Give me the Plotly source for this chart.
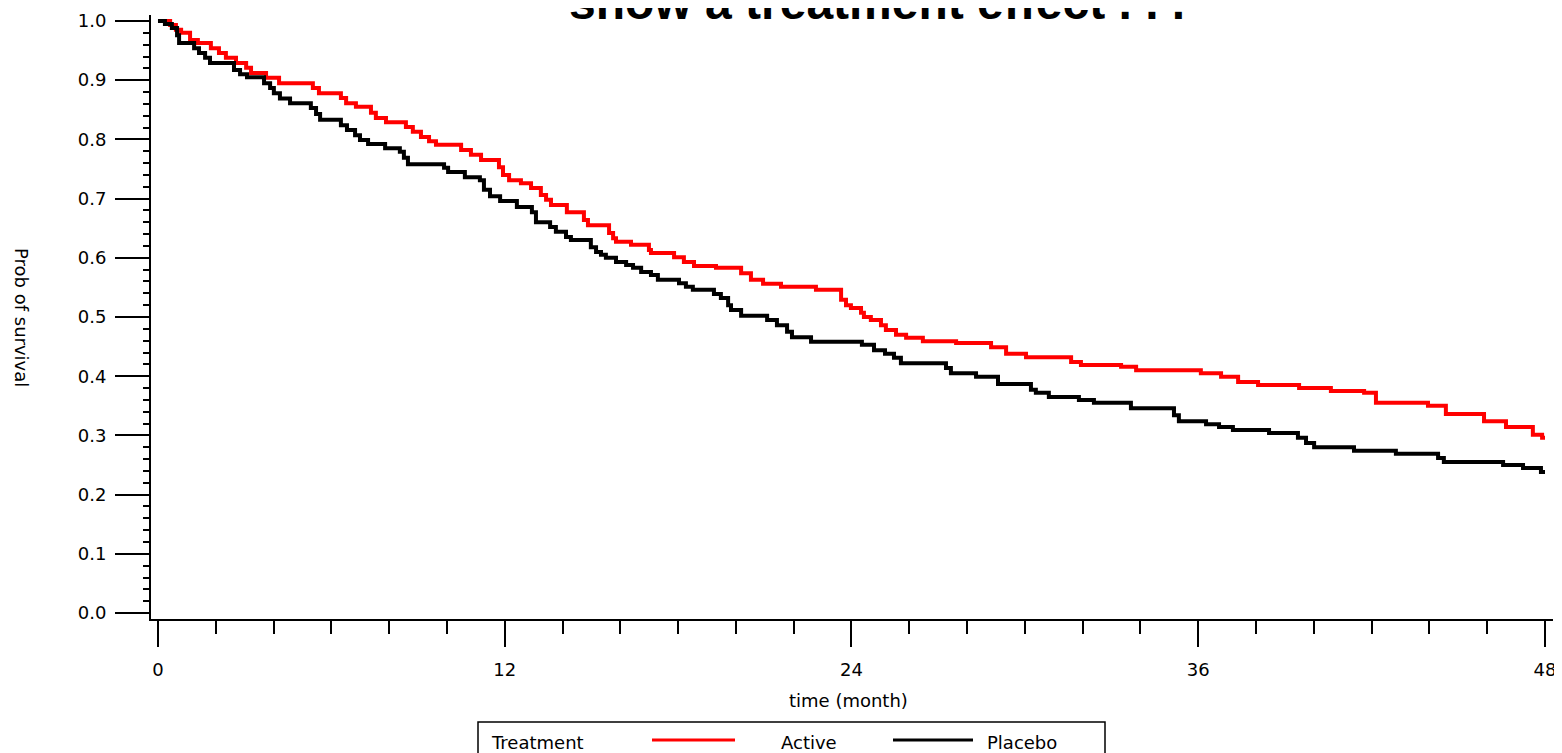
import plotly.graph_objects as go

# ---- data (months, survival probability) ----
active_t = [0, 0.42, 0.62, 0.80, 1.11, 1.38, 1.83, 2.11, 2.35, 2.70, 3.05, 3.22, 3.74, 4.19, 5.36, 5.57,
            6.33, 6.51, 6.85, 7.37, 7.54, 7.89, 8.58, 8.82, 9.10, 9.38, 9.62, 10.49, 10.83, 11.18, 11.80,
            11.94, 12.15, 12.56, 12.91, 13.25, 13.43, 13.60, 14.15, 14.74, 14.88, 15.61, 15.75, 15.85,
            16.37, 16.99, 17.06, 17.86, 18.20, 18.55, 19.31, 20.18, 20.52, 20.94, 21.56, 22.77, 23.64,
            23.81, 23.98, 24.33, 24.43, 24.67, 25.02, 25.19, 25.54, 25.89, 26.47, 27.62, 28.83, 29.35,
            30.04, 31.60, 31.94, 33.33, 33.85, 36.09, 36.79, 37.38, 38.07, 39.49, 40.59, 41.74, 42.15,
            43.95, 44.57, 45.89, 46.65, 47.58, 47.90, 48.0]
active_s = [1.0, 0.993, 0.985, 0.980, 0.968, 0.963, 0.954, 0.946, 0.938, 0.929, 0.921, 0.912, 0.904, 0.895,
            0.887, 0.878, 0.870, 0.861, 0.855, 0.845, 0.836, 0.829, 0.821, 0.813, 0.804, 0.797, 0.791,
            0.782, 0.774, 0.765, 0.753, 0.740, 0.731, 0.726, 0.718, 0.706, 0.698, 0.689, 0.677, 0.664,
            0.655, 0.642, 0.633, 0.627, 0.622, 0.613, 0.608, 0.601, 0.593, 0.586, 0.583, 0.574, 0.563,
            0.556, 0.551, 0.546, 0.529, 0.520, 0.515, 0.507, 0.500, 0.495, 0.486, 0.478, 0.470, 0.465,
            0.459, 0.456, 0.449, 0.438, 0.432, 0.424, 0.419, 0.416, 0.410, 0.405, 0.399, 0.390, 0.385,
            0.380, 0.375, 0.372, 0.355, 0.350, 0.336, 0.324, 0.314, 0.301, 0.296, 0.296]

placebo_t = [0, 0.24, 0.48, 0.66, 0.73, 1.25, 1.42, 1.63, 1.80, 2.63, 2.84, 3.08, 3.67, 3.88, 4.01, 4.22,
             4.57, 5.29, 5.47, 5.61, 6.33, 6.54, 6.82, 6.99, 7.27, 7.86, 8.37, 8.51, 8.65, 9.90, 10.04,
             10.62, 11.14, 11.28, 11.49, 11.84, 12.42, 12.94, 13.08, 13.57, 13.77, 14.12, 14.29, 14.98,
             15.16, 15.33, 15.50, 15.85, 16.20, 16.44, 16.72, 17.06, 17.30, 18.03, 18.27, 18.51, 19.24,
             19.48, 19.73, 19.83, 20.18, 21.08, 21.42, 21.77, 21.94, 22.60, 24.36, 24.78, 25.16, 25.47,
             25.71, 27.27, 27.44, 28.31, 29.07, 30.21, 30.38, 30.83, 31.87, 32.39, 33.67, 35.16, 35.33,
             36.27, 36.72, 37.20, 38.45, 39.45, 39.73, 40.01, 41.39, 42.84, 44.30, 44.50, 46.55, 47.24,
             47.86, 48.0]
placebo_s = [1.0, 0.995, 0.988, 0.976, 0.963, 0.954, 0.946, 0.938, 0.929, 0.917, 0.910, 0.905, 0.895,
             0.887, 0.878, 0.869, 0.861, 0.853, 0.843, 0.833, 0.824, 0.816, 0.807, 0.799, 0.792, 0.785,
             0.779, 0.769, 0.758, 0.752, 0.745, 0.736, 0.731, 0.715, 0.704, 0.696, 0.686, 0.677, 0.660,
             0.652, 0.644, 0.635, 0.630, 0.618, 0.610, 0.605, 0.600, 0.593, 0.588, 0.583, 0.576, 0.571,
             0.563, 0.557, 0.551, 0.546, 0.539, 0.532, 0.520, 0.512, 0.502, 0.495, 0.486, 0.475, 0.466,
             0.458, 0.453, 0.444, 0.438, 0.431, 0.422, 0.414, 0.405, 0.399, 0.387, 0.377, 0.372, 0.365,
             0.360, 0.355, 0.346, 0.334, 0.324, 0.319, 0.314, 0.309, 0.304, 0.296, 0.287, 0.280, 0.274,
             0.269, 0.262, 0.255, 0.250, 0.245, 0.238, 0.238]

x_ticks = [0, 12, 24, 36, 48]
series_names = ["Active", "Placebo"]
series_colors = ["#ff0000", "#000000"]
title_text = "show a treatment effect . . ."
x_title = "time (month)"
y_title = "Prob of survival"
legend_title = "Treatment"

FONT = "DejaVu Sans"

fig = go.Figure()
for name, t, s, c in [(series_names[0], active_t, active_s, series_colors[0]),
                      (series_names[1], placebo_t, placebo_s, series_colors[1])]:
    fig.add_trace(go.Scatter(x=t, y=s, mode="lines", name=name,
                             line=dict(color=c, width=4, shape="hv"), showlegend=False))

# page has an 8px body margin; figure is sized to fill the rest of the window
L, T, R, B = 143, 7, 9, 134
FIG_W, FIG_H = 1554, 745
W, H = FIG_W - L - R, FIG_H - T - B

fig.update_layout(
    width=FIG_W, height=FIG_H,
    margin=dict(l=L, r=R, t=T, b=B, autoexpand=False),
    paper_bgcolor="white", plot_bgcolor="white",
    font=dict(family=FONT, size=18, color="black"),
)

fig.update_xaxes(
    range=[-0.242, 48.277], showgrid=False, zeroline=False, automargin=False,
    showline=True, linecolor="black", linewidth=2,
    tickvals=x_ticks, ticks="outside", ticklen=26, tickwidth=2, tickcolor="black",
    ticklabelstandoff=7,
    minor=dict(dtick=2, tick0=0, ticks="outside", ticklen=13, tickwidth=2, tickcolor="black", showgrid=False),
    tickfont=dict(family=FONT, size=18),
)
fig.update_yaxes(
    range=[-0.0101, 1.0101], showgrid=False, zeroline=False, automargin=False,
    showline=True, linecolor="black", linewidth=2,
    tick0=0, dtick=0.1, tickformat=".1f", ticks="outside", ticklen=34, tickwidth=2, tickcolor="black",
    ticklabelstandoff=5,
    minor=dict(dtick=0.02, tick0=0, ticks="outside", ticklen=6, tickwidth=2, tickcolor="black", showgrid=False),
    tickfont=dict(family=FONT, size=18),
)


def px(x):
    """page pixel x -> paper coordinate"""
    return (x - 8 - L) / W


def py(y):
    """page pixel y -> paper coordinate"""
    return (T + H - (y - 8)) / H


annotations = [
    dict(text="<b>" + title_text + "</b>", x=px(877), y=py(2.4), xref="paper", yref="paper",
         xanchor="center", yanchor="middle", showarrow=False,
         font=dict(family="Liberation Sans", size=48, color="black")),
    dict(text=x_title, x=px(848), y=py(700), xref="paper", yref="paper",
         xanchor="center", yanchor="middle", showarrow=False, font=dict(family=FONT, size=18)),
    dict(text=y_title, x=px(22), y=py(317), xref="paper", yref="paper", textangle=90,
         xanchor="center", yanchor="middle", showarrow=False, font=dict(family=FONT, size=18)),
    dict(text=legend_title, x=px(489), y=py(742), xref="paper", yref="paper",
         xanchor="left", yanchor="middle", showarrow=False, font=dict(family=FONT, size=18)),
    dict(text=series_names[0], x=px(779), y=py(742), xref="paper", yref="paper",
         xanchor="left", yanchor="middle", showarrow=False, font=dict(family=FONT, size=18)),
    dict(text=series_names[1], x=px(985), y=py(742), xref="paper", yref="paper",
         xanchor="left", yanchor="middle", showarrow=False, font=dict(family=FONT, size=18)),
]

shapes = [
    dict(type="rect", xref="paper", yref="paper", x0=px(478), x1=px(1105), y0=py(722), y1=py(770),
         line=dict(color="black", width=1.5), fillcolor="rgba(0,0,0,0)"),
    dict(type="line", xref="paper", yref="paper", x0=px(652), x1=px(735), y0=py(740), y1=py(740),
         line=dict(color=series_colors[0], width=3)),
    dict(type="line", xref="paper", yref="paper", x0=px(893), x1=px(973), y0=py(740), y1=py(740),
         line=dict(color=series_colors[1], width=3)),
]

fig.update_layout(annotations=annotations, shapes=shapes)

fig.write_html("out.html")
